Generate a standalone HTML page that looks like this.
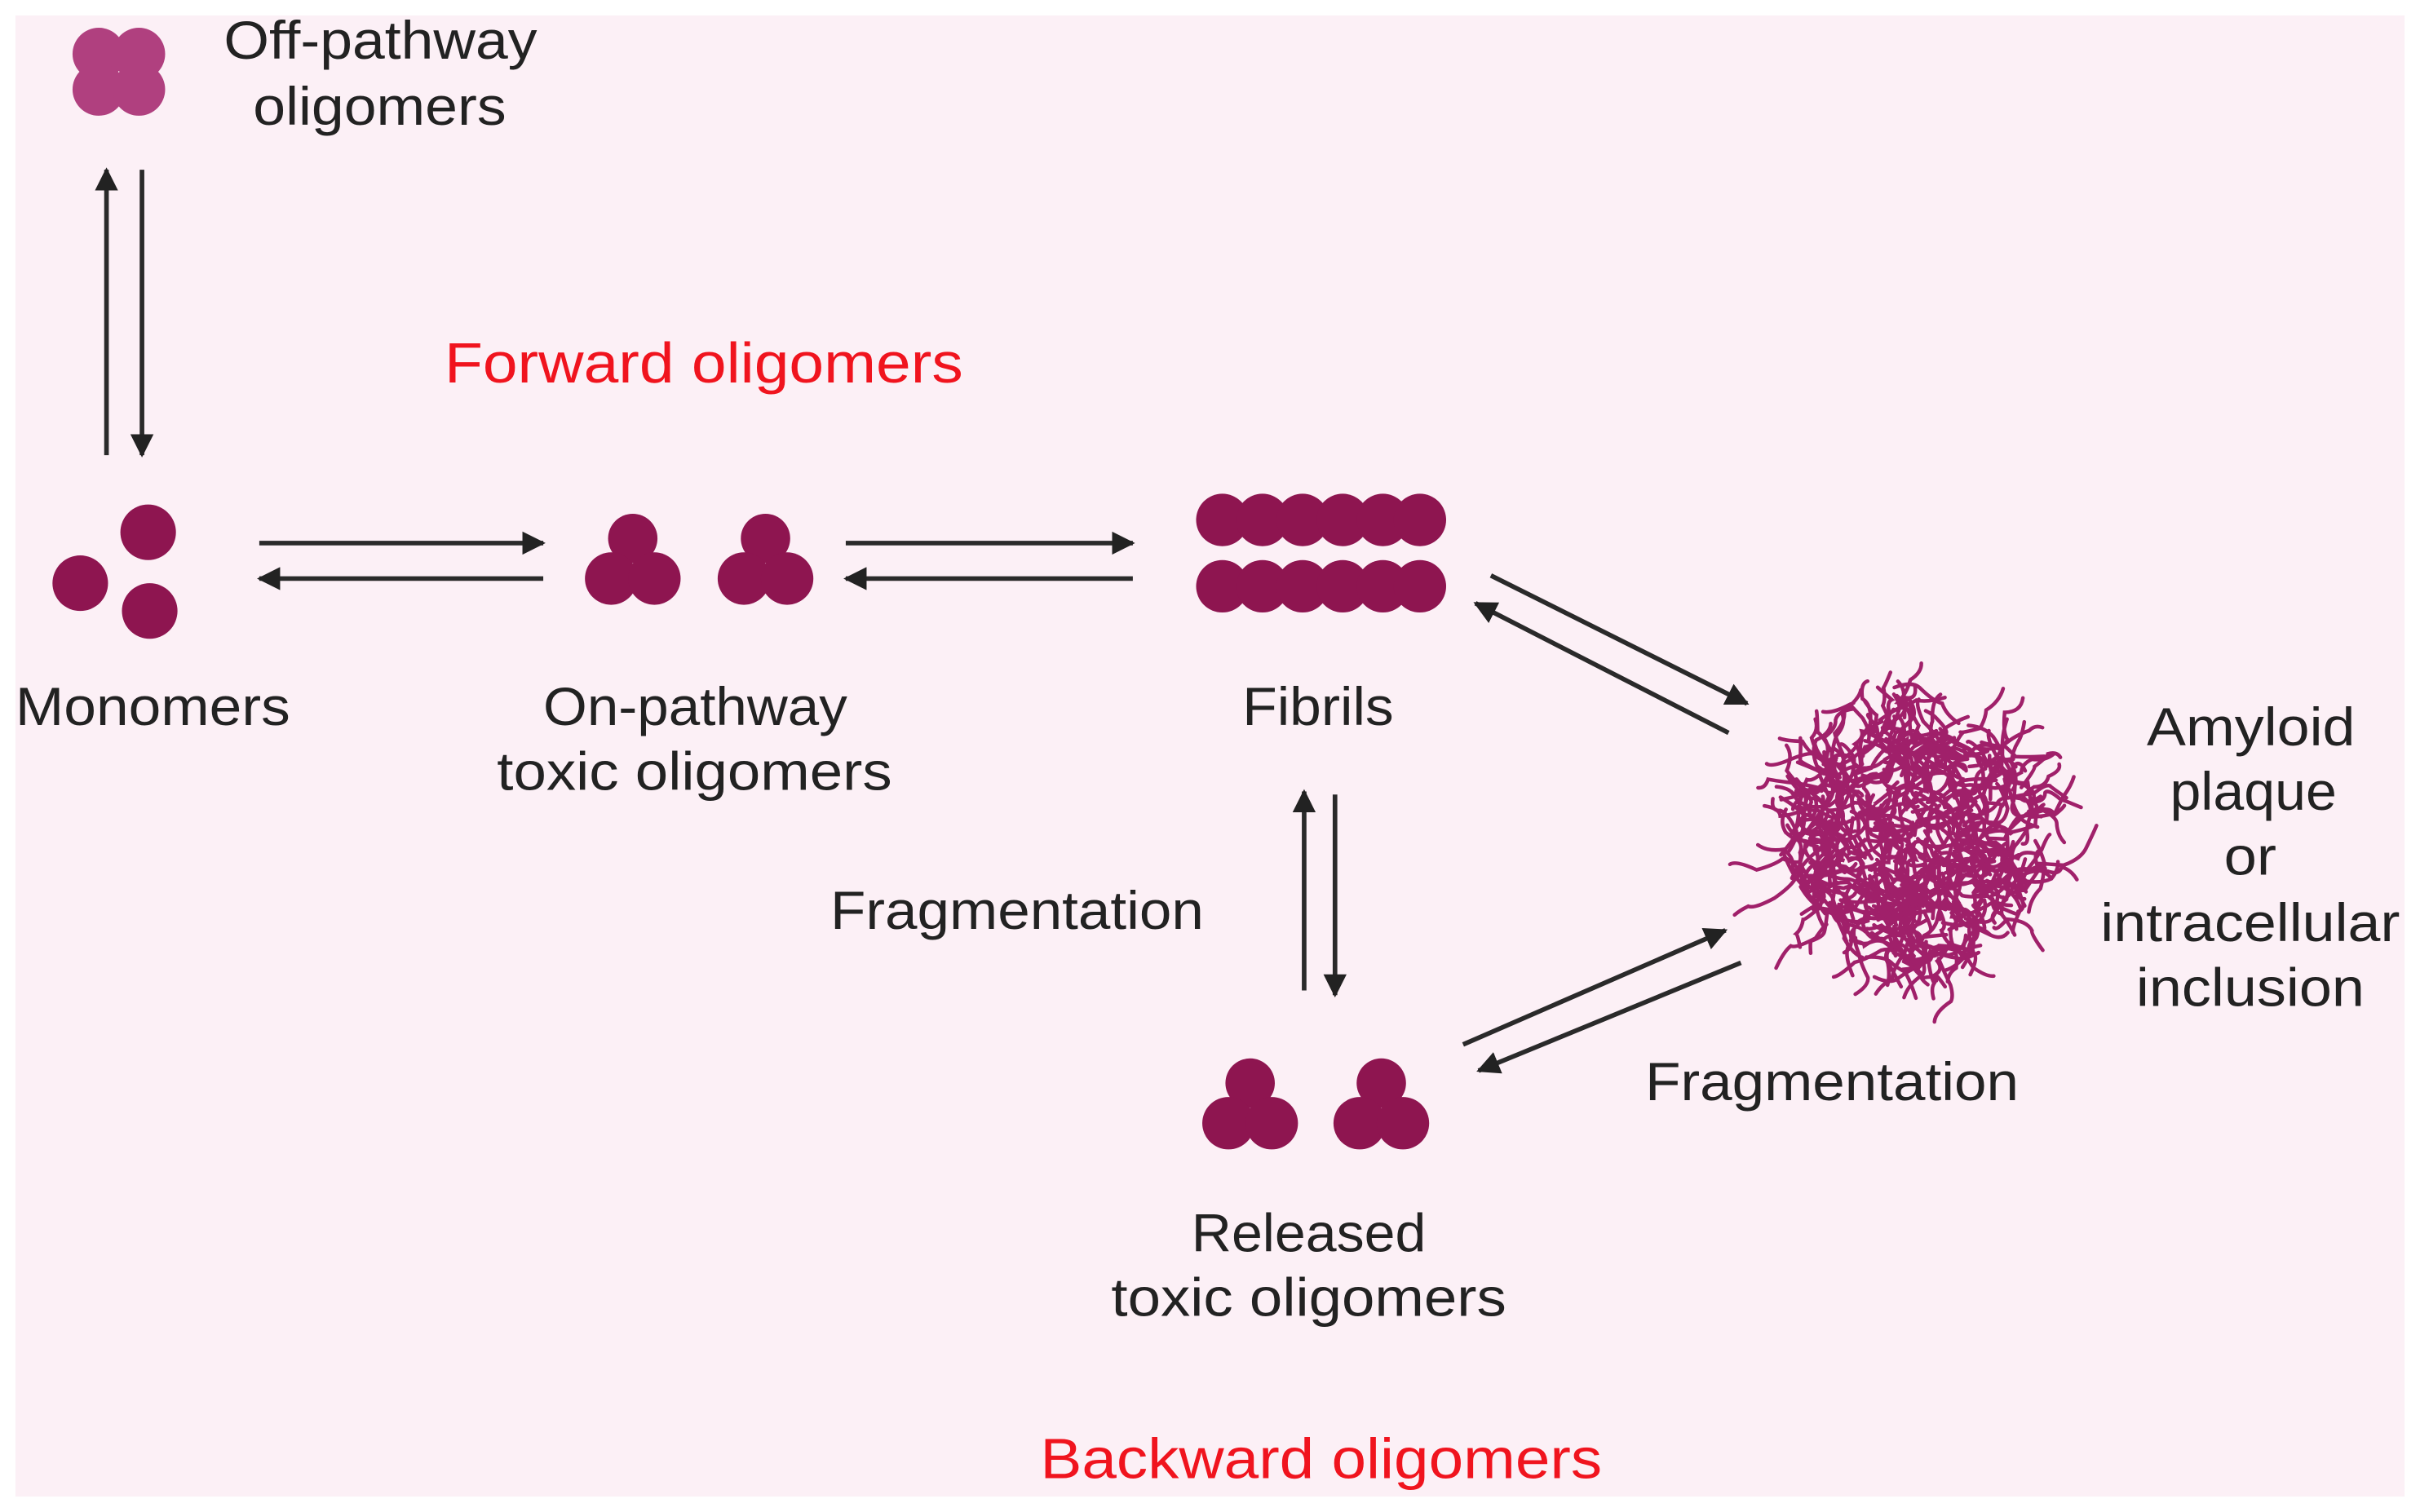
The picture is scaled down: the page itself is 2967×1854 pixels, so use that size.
<!DOCTYPE html>
<html><head><meta charset="utf-8"><style>
html,body{margin:0;padding:0;background:#fff;}
svg{display:block;}
text{font-family:"Liberation Sans",sans-serif;fill:#222;font-size:35px;}
.r{fill:#f0141e;font-size:37px;}
</style></head><body>
<svg id="s" width="2967" height="1854" viewBox="0 0 1568 980" preserveAspectRatio="none" xmlns="http://www.w3.org/2000/svg">
<defs>
<marker id="a" viewBox="0 0 10 10" refX="9" refY="5" markerWidth="5" markerHeight="5" orient="auto-start-reverse" markerUnits="strokeWidth">
<path d="M0,0 L10,5 L0,10 z" fill="#222"/></marker>
</defs>
<rect x="10" y="10" width="1548" height="960" fill="#fcf0f6"/>
<g fill="#b0407f"><circle cx="64" cy="35" r="17"/><circle cx="90" cy="35" r="17"/><circle cx="64" cy="58" r="17"/><circle cx="90" cy="58" r="17"/></g>
<g stroke="#2a2a2a" stroke-width="3" fill="none">
<line x1="69" y1="295" x2="69" y2="110" marker-end="url(#a)"/>
<line x1="92" y1="110" x2="92" y2="295" marker-end="url(#a)"/>
<line x1="168" y1="352" x2="352" y2="352" marker-end="url(#a)"/>
<line x1="352" y1="375" x2="168" y2="375" marker-end="url(#a)"/>
<line x1="548" y1="352" x2="734" y2="352" marker-end="url(#a)"/>
<line x1="734" y1="375" x2="548" y2="375" marker-end="url(#a)"/>
<line x1="966" y1="373" x2="1132" y2="456" marker-end="url(#a)"/>
<line x1="1120" y1="475" x2="956" y2="391" marker-end="url(#a)"/>
<line x1="845" y1="642" x2="845" y2="513" marker-end="url(#a)"/>
<line x1="865" y1="515" x2="865" y2="645" marker-end="url(#a)"/>
<line x1="948" y1="677" x2="1118" y2="603" marker-end="url(#a)"/>
<line x1="1128" y1="624" x2="958" y2="694" marker-end="url(#a)"/>
</g>
<g fill="#8e1550">
<circle cx="96" cy="345" r="18"/><circle cx="52" cy="378" r="18"/><circle cx="97" cy="396" r="18"/>
<circle cx="410" cy="349" r="16"/><circle cx="396" cy="375" r="17"/><circle cx="424" cy="375" r="17"/>
<circle cx="496" cy="349" r="16"/><circle cx="482" cy="375" r="17"/><circle cx="510" cy="375" r="17"/>
<circle cx="810" cy="702" r="16"/><circle cx="796" cy="728" r="17"/><circle cx="824" cy="728" r="17"/>
<circle cx="895" cy="702" r="16"/><circle cx="881" cy="728" r="17"/><circle cx="909" cy="728" r="17"/>
<circle cx="792" cy="337" r="17"/><circle cx="818" cy="337" r="17"/><circle cx="844" cy="337" r="17"/><circle cx="870" cy="337" r="17"/><circle cx="896" cy="337" r="17"/><circle cx="920" cy="337" r="17"/>
<circle cx="792" cy="380" r="17"/><circle cx="818" cy="380" r="17"/><circle cx="844" cy="380" r="17"/><circle cx="870" cy="380" r="17"/><circle cx="896" cy="380" r="17"/><circle cx="920" cy="380" r="17"/>
</g>
<g id="tangle" stroke="#a0206a" stroke-width="2.4" fill="none" stroke-linecap="round"></g>
<g lengthAdjust="spacingAndGlyphs">
<text x="145" y="38" textLength="203" lengthAdjust="spacingAndGlyphs">Off-pathway</text>
<text x="164" y="81" textLength="164" lengthAdjust="spacingAndGlyphs">oligomers</text>
<text class="r" x="288" y="248" textLength="336" lengthAdjust="spacingAndGlyphs">Forward oligomers</text>
<text x="10" y="470" textLength="178" lengthAdjust="spacingAndGlyphs">Monomers</text>
<text x="352" y="470" textLength="197" lengthAdjust="spacingAndGlyphs">On-pathway</text>
<text x="322" y="512" textLength="256" lengthAdjust="spacingAndGlyphs">toxic oligomers</text>
<text x="805" y="470" textLength="98" lengthAdjust="spacingAndGlyphs">Fibrils</text>
<text x="538" y="602" textLength="242" lengthAdjust="spacingAndGlyphs">Fragmentation</text>
<text x="1066" y="713" textLength="242" lengthAdjust="spacingAndGlyphs">Fragmentation</text>
<text x="772" y="811" textLength="152" lengthAdjust="spacingAndGlyphs">Released</text>
<text x="720" y="853" textLength="256" lengthAdjust="spacingAndGlyphs">toxic oligomers</text>
<text x="1391" y="483" textLength="135" lengthAdjust="spacingAndGlyphs">Amyloid</text>
<text x="1406" y="525" textLength="108" lengthAdjust="spacingAndGlyphs">plaque</text>
<text x="1441" y="567" textLength="34" lengthAdjust="spacingAndGlyphs">or</text>
<text x="1361" y="610" textLength="194" lengthAdjust="spacingAndGlyphs">intracellular</text>
<text x="1384" y="652" textLength="148" lengthAdjust="spacingAndGlyphs">inclusion</text>
<text class="r" x="674" y="958" textLength="364" lengthAdjust="spacingAndGlyphs">Backward oligomers</text>
</g>
</svg>
<script>
(function(){
var g=document.getElementById('tangle');var seed=7;
function r(){seed=(seed*16807)%2147483647;return seed/2147483647;}
var cx=1240,cy=545,s='';
for(var i=0;i<380;i++){
 var a=r()*6.283,d=Math.sqrt(r())*82;
 var x=cx+Math.cos(a)*d,y=cy+Math.sin(a)*d;
 var p='M'+x.toFixed(1)+','+y.toFixed(1);
 var ang=r()*6.283;
 for(var k=0;k<3;k++){
  ang+= (r()-0.5)*2.2;
  var l=8+r()*11;
  var x2=x+Math.cos(ang)*l,y2=y+Math.sin(ang)*l;
  var qx=(x+x2)/2+(r()-0.5)*10,qy=(y+y2)/2+(r()-0.5)*10;
  p+=' Q'+qx.toFixed(1)+','+qy.toFixed(1)+' '+x2.toFixed(1)+','+y2.toFixed(1);
  x=x2;y=y2;
 }
 s+='<path d="'+p+'"/>';
}
g.innerHTML=s;
})();
</script>
</body></html>
